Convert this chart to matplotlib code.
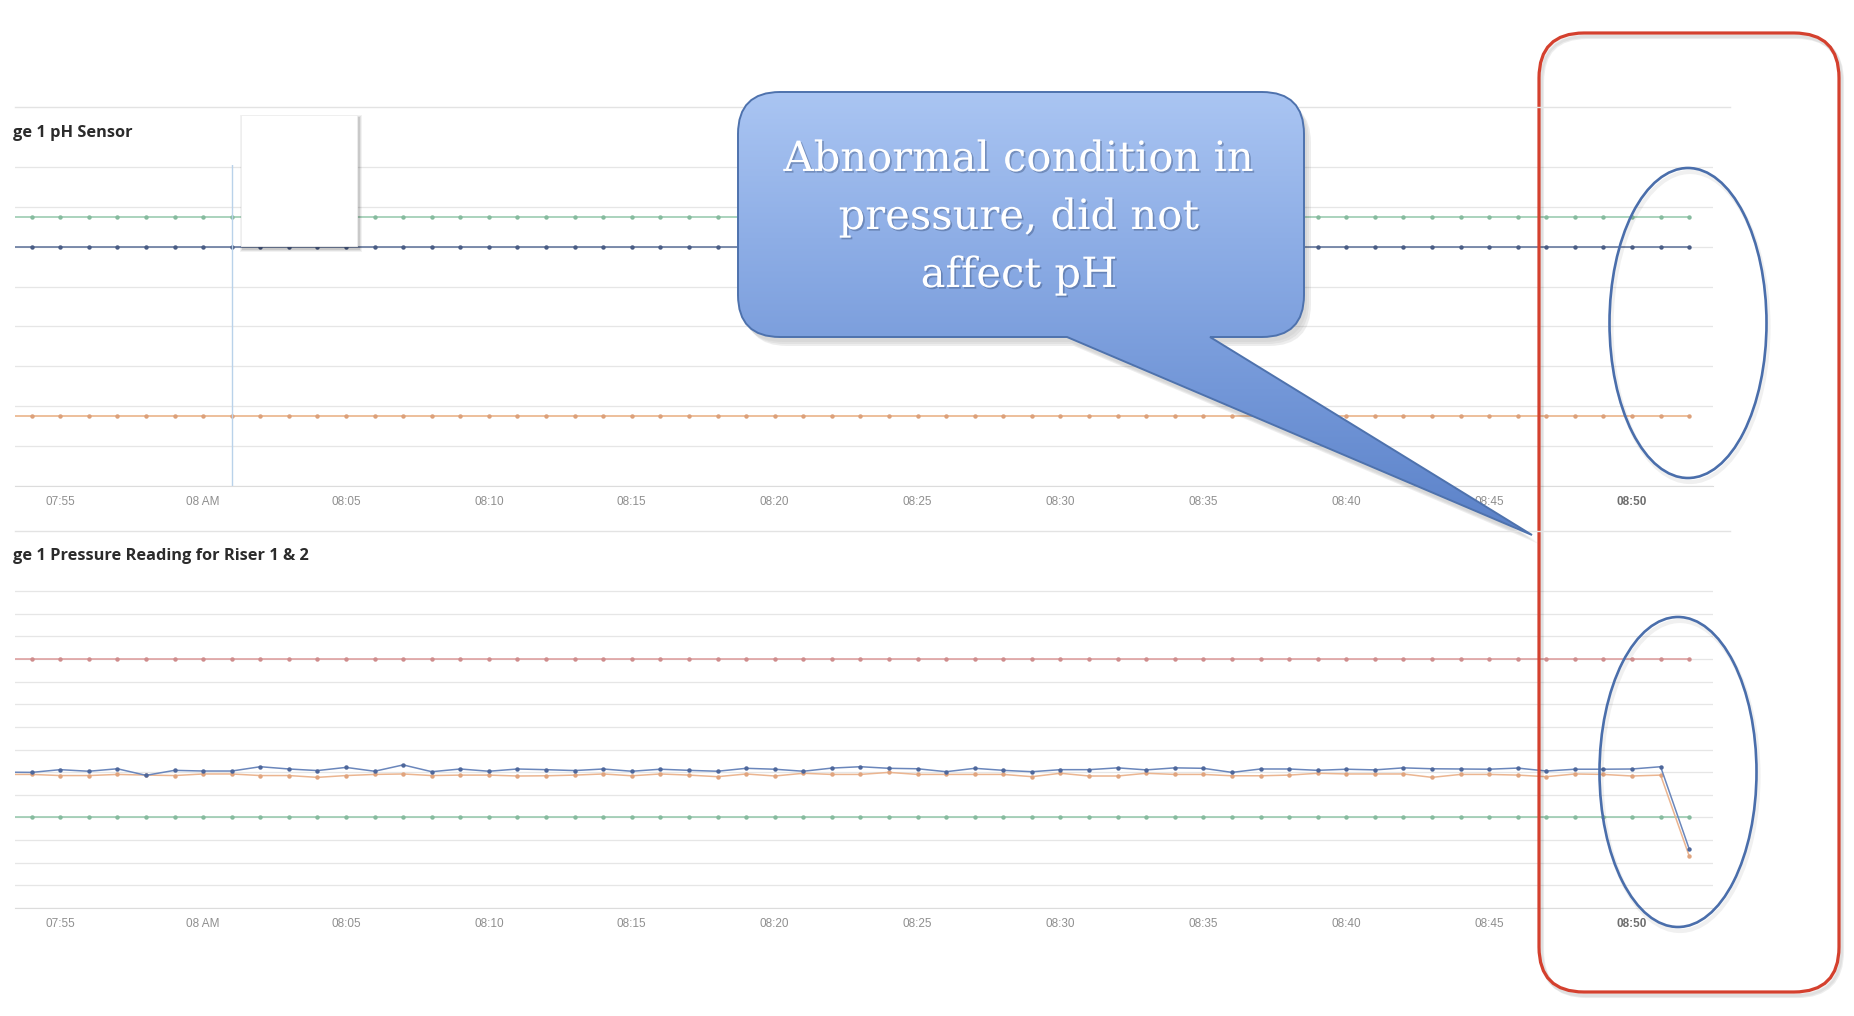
import numpy as np
import pandas as pd
import matplotlib
matplotlib.use('Agg')
import matplotlib.pyplot as plt
from matplotlib.patches import FancyBboxPatch, Ellipse, PathPatch, Rectangle
from matplotlib.path import Path
from matplotlib.colors import LinearSegmentedColormap
import matplotlib.patheffects as pe

W, H = 1854, 1016  # figure size in pixels (dpi 100)

# --- data: one sample per minute, 07:53 -> 08:52
times = pd.date_range('2020-01-01 07:53', '2020-01-01 08:52', freq='1min')

# pH sensor (flat lines)
ph_upper = 6.75
ph_value = 6.0
ph_lower = 1.75

# pressure, riser 1 (blue) and riser 2 (orange)
riser1 = [60.0,
          59.9, 61.1, 60.4, 61.5, 58.6, 60.8, 60.5, 60.5, 62.4, 61.4, 60.7, 62.1, 60.4, 63.2, 60.2,
          61.4, 60.4, 61.4, 61.1, 60.7, 61.4, 60.4, 61.3, 60.8, 60.4, 61.7, 61.3, 60.4, 61.8, 62.4,
          61.7, 61.5, 60.2, 61.7, 60.8, 60.2, 61.1, 61.1, 61.9, 61.0, 61.9, 61.7, 59.9, 61.4,
          61.4, 60.8, 61.3, 61.0, 61.9, 61.5, 61.4, 61.3, 61.8, 60.5, 61.3, 61.3, 61.4, 62.4,
          26.1]
riser2 = [59.0,
          59.0, 58.5, 58.5, 59.0, 58.7, 58.5, 59.2, 59.2, 58.5, 58.5, 57.7, 58.5, 59.0, 59.2, 58.5,
          58.7, 58.7, 58.3, 58.4, 58.7, 59.2, 58.4, 59.2, 58.7, 58.0, 59.2, 58.3, 59.5, 59.0, 59.0,
          59.9, 59.0, 59.0, 59.0, 59.0, 58.0, 59.5, 58.3, 58.3, 59.5, 59.0, 59.0, 58.4, 58.4,
          58.7, 59.5, 59.2, 59.2, 59.2, 57.7, 59.0, 59.0, 58.7, 58.0, 59.2, 59.0, 58.3, 58.7,
          23.0]
pres_upper = 110.0
pres_lower = 40.0

tick_times = pd.date_range('2020-01-01 07:55', '2020-01-01 08:50', freq='5min')
tick_labels = ['07:55', '08 AM', '08:05', '08:10', '08:15', '08:20', '08:25',
               '08:30', '08:35', '08:40', '08:45', '08:50']
cursor_time = pd.Timestamp('2020-01-01 08:01')

# panel titles as they show in the cropped screenshot
titles = ['ge 1 pH Sensor', 'ge 1 Pressure Reading for Riser 1 & 2']
callout_lines = ['Abnormal condition in', 'pressure, did not', 'affect pH']

x_min = pd.Timestamp('2020-01-01 07:53:25')
x_max = pd.Timestamp('2020-01-01 08:52:50')

GRID = '#e6e6e6'
TICK = '#8f8f8f'


def px_axes(x0, y0, x1, y1):
    # axes from pixel box (y measured from the top)
    return fig.add_axes([x0 / W, (H - y1) / H, (x1 - x0) / W, (y1 - y0) / H])


def style(ax, yticks, ytop):
    ax.set_xlim(x_min, x_max)
    ax.set_ylim(yticks[0], ytop)
    ax.set_yticks(yticks)
    ax.grid(axis='y', color=GRID, lw=0.9)
    ax.set_axisbelow(True)
    for s in ['top', 'left', 'right']:
        ax.spines[s].set_visible(False)
    ax.spines['bottom'].set_color('#dcdcdc')
    ax.tick_params(left=False, labelleft=False, bottom=False, pad=4)
    ax.set_xticks(tick_times)
    ax.set_xticklabels(tick_labels, fontsize=8.5, color=TICK, family='Liberation Sans')
    last = ax.get_xticklabels()[-1]
    last.set_color('#6e6e6e')
    last.set_fontweight('bold')


fig = plt.figure(figsize=(W / 100, H / 100), dpi=100)
fig.patch.set_facecolor('white')

line_kw = dict(lw=1.1, marker='o', ms=3.2)

# --- pH panel
ax1 = px_axes(15, 165, 1713, 486)
style(ax1, np.arange(0, 9, 1), 8.05)
n = len(times)
ax1.plot(times, [ph_upper] * n, color='#93c7ab', mfc='#86bb9e', mec='none', **line_kw)
ax1.plot(times, [ph_value] * n, color='#5a6f97', mfc='#4a5d85', mec='none', **line_kw)
ax1.plot(times, [ph_lower] * n, color='#e8ad80', mfc='#dca07a', mec='none', **line_kw)
ax1.axvline(cursor_time, color='#b9d2ea', lw=1)

# --- pressure panel
ax2 = px_axes(15, 589, 1713, 908)
style(ax2, np.arange(0, 150, 10), 140.9)
ax2.plot(times, [pres_upper] * n, color='#dc9a9a', mfc='#cf8c8c', mec='none', **line_kw)
ax2.plot(times, [pres_lower] * n, color='#93c7ab', mfc='#86bb9e', mec='none', **line_kw)
ax2.plot(times, riser2, color='#ebb590', mfc='#e0a47e', mec='none', **line_kw)
ax2.plot(times, riser1, color='#6a86bb', mfc='#4e679b', mec='none', **line_kw)

# --- overlay in pixel coordinates
ov = fig.add_axes([0, 0, 1, 1], zorder=10)
ov.patch.set_alpha(0)
ov.axis('off')

# panel header separators
for y in [107, 531]:
    ov.plot([15, 1730], [y, y], color='#e3e3e3', lw=1)

# panel titles
for title, y in zip(titles, [133, 556]):
    ov.text(13, y, title, ha='left', va='center', fontsize=11.8,
            fontweight='bold', family='Open Sans', color='#2b2b2b')

# hover tooltip box with shadow
for k, a in enumerate([0.05, 0.07, 0.1]):
    d = 3 - k
    ov.add_patch(Rectangle((241 - d + 2, 115 - d + 3), 116 + 2 * d, 131 + 2 * d,
                           fc='black', ec='none', alpha=a))
ov.add_patch(Rectangle((241, 115), 116, 131, fc='white', ec='#eeeeee', lw=0.6))

# callout bubble
x0, y0, x1, y1, r = 738, 92, 1304, 337, 42
bx0, bx1, tip = 1067, 1210, (1532, 535)
verts = [(x0 + r, y0), (x1 - r, y0), (x1, y0), (x1, y0 + r), (x1, y1 - r), (x1, y1), (x1 - r, y1),
         (bx1, y1), tip, (bx0, y1), (x0 + r, y1), (x0, y1), (x0, y1 - r), (x0, y0 + r), (x0, y0),
         (x0 + r, y0), (x0 + r, y0)]
codes = [Path.MOVETO, Path.LINETO, Path.CURVE3, Path.CURVE3, Path.LINETO, Path.CURVE3, Path.CURVE3,
         Path.LINETO, Path.LINETO, Path.LINETO, Path.LINETO, Path.CURVE3, Path.CURVE3, Path.LINETO,
         Path.CURVE3, Path.CURVE3, Path.CLOSEPOLY]
bubble = Path(verts, codes)
for k, a in enumerate([0.05, 0.07, 0.09]):
    sh = Path(np.array(verts) + np.array([3 + 2 * k, 5 + 2 * k]), codes)
    ov.add_patch(PathPatch(sh, fc='#404040', ec='none', alpha=a))
bpatch = PathPatch(bubble, fc='none', ec='#4e72ad', lw=1.4, zorder=3)
ov.add_patch(bpatch)
cmap = LinearSegmentedColormap.from_list('bub', ['#abc6f3', '#8eaee6', '#7397d8', '#5a81c8'])
grad = np.linspace(0, 1, 256).reshape(-1, 1)
img = ov.imshow(grad, extent=[x0 - 5, tip[0] + 5, tip[1] + 5, y0 - 5], cmap=cmap,
                aspect='auto', zorder=2, interpolation='bilinear')
img.set_clip_path(PathPatch(bubble, transform=ov.transData))
for line, y in zip(callout_lines, [159, 217, 275]):
    ov.text(1019, y, line, ha='center', va='center', fontsize=30, family='DejaVu Serif',
            color='white', zorder=4,
            path_effects=[pe.withSimplePatchShadow(offset=(1.2, -1.2), shadow_rgbFace='#2a3f66',
                                                   alpha=0.35)])

# red highlight frame
for k, a in enumerate([0.05, 0.07]):
    ov.add_patch(FancyBboxPatch((1539 + 2 + k, 33 + 3 + k), 300, 959,
                                boxstyle='round,pad=0,rounding_size=45',
                                fc='none', ec='black', lw=3, alpha=a))
ov.add_patch(FancyBboxPatch((1539, 33), 300, 959, boxstyle='round,pad=0,rounding_size=45',
                            fc='none', ec='#d4402e', lw=2.3))

# blue ellipses
for cx, cy in [(1688, 323), (1678, 772)]:
    ov.add_patch(Ellipse((cx + 2, cy + 4), 157, 310, fc='none', ec='black', lw=3, alpha=0.06))
    ov.add_patch(Ellipse((cx, cy), 157, 310, fc='none', ec='#4a6eab', lw=1.9))

ov.set_xlim(0, W)
ov.set_ylim(H, 0)

fig.savefig('out.png', dpi=100, facecolor='white')
